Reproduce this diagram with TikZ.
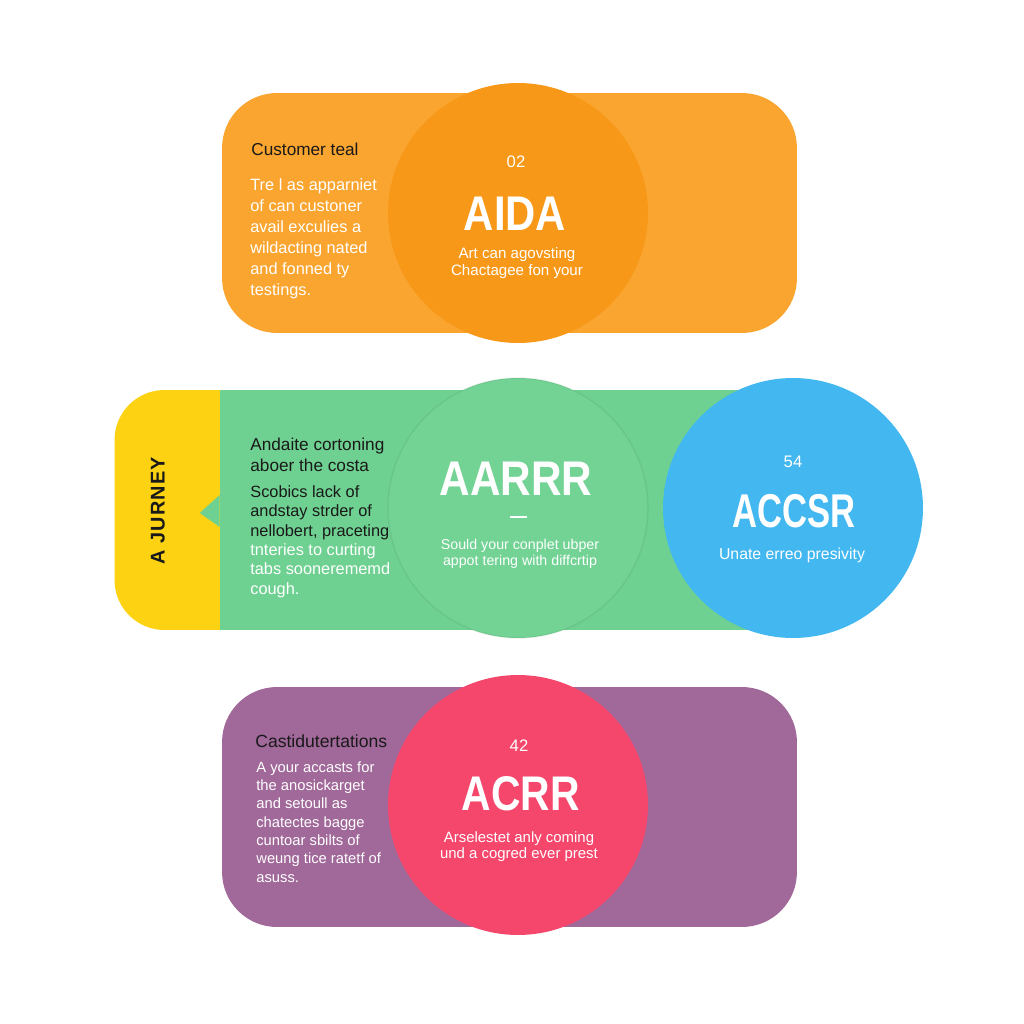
\documentclass[tikz,border=0pt]{standalone}
\usepackage{fontspec}
\setmainfont{Liberation Sans}
\newfontfamily\spacedfont[LetterSpace=6]{Liberation Sans}
\usetikzlibrary{positioning}
\definecolor{aidaorange}{RGB}{250,165,48}
\definecolor{aidadisc}{RGB}{248,152,24}
\definecolor{aarrrgreen}{RGB}{111,209,145}
\definecolor{aarrrdisc}{RGB}{114,211,148}
\definecolor{accsrblue}{RGB}{66,183,240}
\definecolor{journeyyellow}{RGB}{252,210,18}
\definecolor{acrrpurple}{RGB}{161,104,154}
\definecolor{acrrdisc}{RGB}{245,70,108}
\definecolor{darktext}{RGB}{25,25,25}

\begin{document}
\begin{tikzpicture}[x=0.02cm, y=-0.02cm,
    panel/.style = {rectangle, rounded corners=1.1cm, minimum width=11.5cm,
                    minimum height=4.8cm, inner sep=0},
    disc/.style = {circle, minimum size=5.2cm, inner sep=0},
    % multi-line texts: base = baseline of the last line
    headtext/.style = {anchor=base west, inner sep=0, align=left, text=darktext,
                       font=\fontsize{9.8pt}{11.5pt}\selectfont},
    bodytext/.style = {anchor=base west, inner sep=0, align=left, text=white,
                       font=\fontsize{9.3pt}{11.9pt}\selectfont},
    numtext/.style = {anchor=base, inner sep=0, text=white,
                      font=\fontsize{9.5pt}{11pt}\selectfont},
    titletext/.style = {anchor=base, inner sep=0, text=white,
                        font=\fontsize{27.7pt}{28pt}\selectfont\bfseries},
    subtext/.style = {anchor=base, inner sep=0, align=center, text=white,
                      font=\fontsize{8.6pt}{9.3pt}\selectfont}]
\useasboundingbox (0,0) rectangle (1024,1024);
\fill[white] (0,0) rectangle (1024,1024);

% AIDA row
\node[panel, fill=aidaorange] (aidapanel) at (509.5,213) {};
\node[disc, fill=aidadisc] (aida) at (518,213) {};
\node[headtext] (aidahead) at (251,155) {Customer teal};
\node[bodytext] (aidabody) at (250,295) {Tre l as apparniet\\of can custoner\\avail exculies a\\wildacting nated\\and fonned ty\\testings.};
\node[numtext] (aidanum) at (516,167) {02};
\node[titletext] (aidatitle) at (515,230) {\scalebox{0.86}[1]{AIDA}};
\node[subtext] (aidasub) at (517,275) {Art can agovsting\\Chactagee fon your};

% AARRR row
\node[rectangle, rounded corners=1cm, fill=journeyyellow, minimum width=3.7cm,
      minimum height=4.8cm, inner sep=0] (journeytab) at (207,510) {};
\node[rectangle, fill=aarrrgreen, minimum width=11.4cm, minimum height=4.8cm,
      inner sep=0] (aarrrpanel) at (505,510) {};
\fill[aarrrgreen] ([yshift=0.3cm]aarrrpanel.west) -- ([xshift=-0.4cm,yshift=-0.06cm]aarrrpanel.west)
    -- ([yshift=-0.34cm]aarrrpanel.west) -- cycle;
\node[rotate=90, inner sep=0, text=darktext,
      font=\spacedfont\fontsize{11.3pt}{12pt}\selectfont\bfseries] (journeylabel) at (158,511) {A JURNEY};
\node[disc, fill=aarrrdisc, draw=black, draw opacity=0.06, line width=0.8pt] (aarrr) at (518,508) {};
\node[disc, fill=accsrblue] (accsr) at (793,508) {};
\node[headtext] (aarrrhead) at (250,471) {Andaite cortoning\\aboer the costa};
\node[bodytext, font=\fontsize{9.3pt}{11pt}\selectfont] (aarrrbody) at (250,594) {\color{darktext}Scobics lack of\\\color{darktext}andstay strder of\\\color{darktext}nellobert, praceting\\tnteries to curting\\tabs soonerememd\\cough.};
\node[titletext] (aarrrtitle) at (516,495) {\scalebox{0.87}[1]{AARRR}};
\node[inner sep=0, fill=white, minimum width=0.34cm, minimum height=0.04cm] (aarrrdash) at (518,517) {};
\node[subtext, font=\fontsize{8.1pt}{8.6pt}\selectfont] (aarrrsub) at (520,565) {Sould your conplet ubper\\appot tering with diffcrtip};
\node[numtext] (accsrnum) at (793,467) {54};
\node[titletext, font=\fontsize{27pt}{28pt}\selectfont\bfseries] (accsrtitle) at (794,527) {\scalebox{0.73}[1]{ACCSR}};
\node[subtext, font=\fontsize{9pt}{10pt}\selectfont] (accsrsub) at (792,559) {Unate erreo presivity};

% ACRR row
\node[panel, fill=acrrpurple] (acrrpanel) at (509.5,807) {};
\node[disc, fill=acrrdisc] (acrr) at (518,805) {};
\node[headtext, font=\fontsize{10pt}{11.5pt}\selectfont] (acrrhead) at (255,747) {Castidutertations};
\node[bodytext, font=\fontsize{8.4pt}{10.4pt}\selectfont] (acrrbody) at (256,882) {A your accasts for\\the anosickarget\\and setoull as\\chatectes bagge\\cuntoar sbilts of\\weung tice ratetf of\\asuss.};
\node[numtext] (acrrnum) at (519,751) {42};
\node[titletext] (acrrtitle) at (521,810) {\scalebox{0.84}[1]{ACRR}};
\node[subtext, font=\fontsize{8.5pt}{8.6pt}\selectfont] (acrrsub) at (519,858) {Arselestet anly coming\\und a cogred ever prest};

\end{tikzpicture}
\end{document}
